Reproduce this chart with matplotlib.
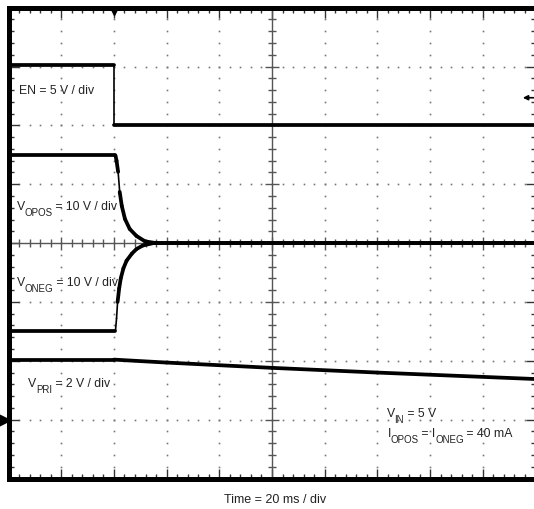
"""Scope capture: EN, VOPOS, VONEG and VPRI at shutdown (20 ms / div)."""

import matplotlib
matplotlib.use("Agg")
import matplotlib.pyplot as plt
import numpy as np
from matplotlib.collections import LineCollection

# screen is 10 x 8 divisions, values below are in divisions
EN_T = [0.0, 2.0, 2.0, 10.0]
EN_V = [7.02, 7.02, 6.01, 6.01]

VOPOS_T = [0.0, 2.03, 2.05, 2.08, 2.11, 2.15, 2.21, 2.30, 2.43, 2.59, 2.80, 10.0]
VOPOS_V = [5.49, 5.49, 5.40, 5.21, 4.87, 4.63, 4.41, 4.24, 4.12, 4.03, 4.00, 4.00]

VONEG_T = [0.0, 2.03, 2.05, 2.07, 2.10, 2.13, 2.18, 2.24, 2.34, 2.43, 2.55, 2.75, 10.0]
VONEG_V = [2.51, 2.51, 2.72, 3.00, 3.23, 3.40, 3.57, 3.70, 3.82, 3.90, 3.96, 4.00, 4.00]

VPRI_T = [0.0, 2.0, 3.0, 5.0, 7.0, 10.0]
VPRI_V = [2.02, 2.02, 1.97, 1.88, 1.80, 1.69]

# (x, baseline y, [(text, is_subscript), ...])
LABELS = [
    (0.205, 6.556, [("EN = 5 V / div", False)]),
    (0.156, 4.583, [("V", False), ("OPOS", True), (" = 10 V / div", False)]),
    (0.156, 3.290, [("V", False), ("ONEG", True), (" = 10 V / div", False)]),
    (0.376, 1.565, [("V", False), ("PRI", True), (" = 2 V / div", False)]),
    (7.180, 1.068, [("V", False), ("IN", True), (" = 5 V", False)]),
    (7.195, 0.720, [("I", False), ("OPOS", True), (" = I", False),
                    ("ONEG", True), (" = 40 mA", False)]),
]
X_LABEL = "Time = 20 ms / div"

plt.rcParams["font.family"] = ["Liberation Sans", "DejaVu Sans"]

GRID = "#777777"
TEXT = "#222222"
MAIN_SIZE = 8.8
SUB_SIZE = 7.0
SUB_DROP = 3.6  # points


def draw_trace(ax, t, v):
    # flat / noisy parts look thick on the scope, fast edges are thin
    pts = np.column_stack([t, v])
    segs = np.stack([pts[:-1], pts[1:]], axis=1)
    widths = []
    for (x0, y0), (x1, y1) in segs:
        dx = abs(x1 - x0)
        steep = dx < 1e-9 or abs(y1 - y0) / dx > 8
        widths.append(1.2 if steep else 2.7)
    ax.add_collection(LineCollection(segs, linewidths=widths, colors="black",
                                     capstyle="round", joinstyle="round", zorder=5))


def draw_graticule(ax):
    minor = np.round(np.arange(0.2, 10.0, 0.2), 2)
    minor_y = np.round(np.arange(0.2, 8.0, 0.2), 2)

    # dotted major divisions
    for x in range(1, 10):
        if x != 5:
            ax.plot(np.full_like(minor_y, x), minor_y, ls="none", marker="s",
                    ms=1.2, mec="none", mfc=GRID, zorder=1)
    for y in range(1, 8):
        if y != 4:
            ax.plot(minor, np.full_like(minor, y), ls="none", marker="s",
                    ms=1.2, mec="none", mfc=GRID, zorder=1)

    # centre cross with small ticks
    ax.axhline(4, color="#555555", lw=1.0, zorder=2)
    ax.axvline(5, color="#555555", lw=1.0, zorder=2)
    for x in minor:
        h = 0.11 if abs(x - round(x)) < 1e-6 else 0.07
        ax.vlines(x, 4 - h, 4 + h, color="#555555", lw=1.0, zorder=2)
    for y in minor_y:
        h = 0.13 if abs(y - round(y)) < 1e-6 else 0.08
        ax.hlines(y, 5 - h, 5 + h, color="#555555", lw=1.0, zorder=2)


def draw_label(ax, x, y, parts):
    # chain pieces so the subscripts sit low like on the scope screen
    first, _ = parts[0]
    prev = ax.text(x, y, first, fontsize=MAIN_SIZE, color=TEXT,
                   va="baseline", ha="left", zorder=7)
    prev_sub = False
    for s, sub in parts[1:]:
        dy = (-SUB_DROP if sub else 0) - (-SUB_DROP if prev_sub else 0)
        prev = ax.annotate(s, xy=(1, 0), xycoords=prev, xytext=(-0.3, dy),
                           textcoords="offset points", va="bottom", ha="left",
                           fontsize=SUB_SIZE if sub else MAIN_SIZE,
                           color=TEXT, zorder=7)
        prev_sub = sub


fig = plt.figure(figsize=(5.34, 5.10), dpi=100)
ax = fig.add_axes([8.5 / 534, 30.5 / 510, 527 / 534, 470.8 / 510])
ax.set_xlim(0, 10)
ax.set_ylim(0, 8)

for side in ["left", "top", "bottom"]:
    ax.spines[side].set_linewidth(3.6)
ax.spines["right"].set_visible(False)

ax.set_xticks(range(0, 11))
ax.set_yticks(range(0, 9))
ax.set_xticks(np.arange(0, 10.01, 0.2), minor=True)
ax.set_yticks(np.arange(0, 8.01, 0.2), minor=True)
ax.tick_params(which="both", direction="in", top=True, right=True,
               labelbottom=False, labelleft=False, color="#333333")
ax.tick_params(which="major", length=7, width=1.0)
ax.tick_params(which="minor", length=3.5, width=1.0)

draw_graticule(ax)

draw_trace(ax, EN_T, EN_V)
draw_trace(ax, VOPOS_T, VOPOS_V)
draw_trace(ax, VONEG_T, VONEG_V)
draw_trace(ax, VPRI_T, VPRI_V)

# trigger position, trigger level and channel marker
ax.plot([2.0], [7.93], marker="v", ms=5, color="black", zorder=6, clip_on=False)
ax.annotate("", xy=(9.76, 6.47), xytext=(10.05, 6.47), annotation_clip=False,
            arrowprops=dict(arrowstyle="-|>", color="black", lw=1.2,
                            mutation_scale=7, shrinkA=0, shrinkB=0))
ax.plot([-0.09], [1.0], marker=">", ms=9, color="black", zorder=6, clip_on=False)

for x, y, parts in LABELS:
    draw_label(ax, x, y, parts)

fig.text(275.5 / 534, 6.7 / 510, X_LABEL, fontsize=9.0, color=TEXT,
         ha="center", va="baseline")

fig.savefig("out.png", dpi=100)
